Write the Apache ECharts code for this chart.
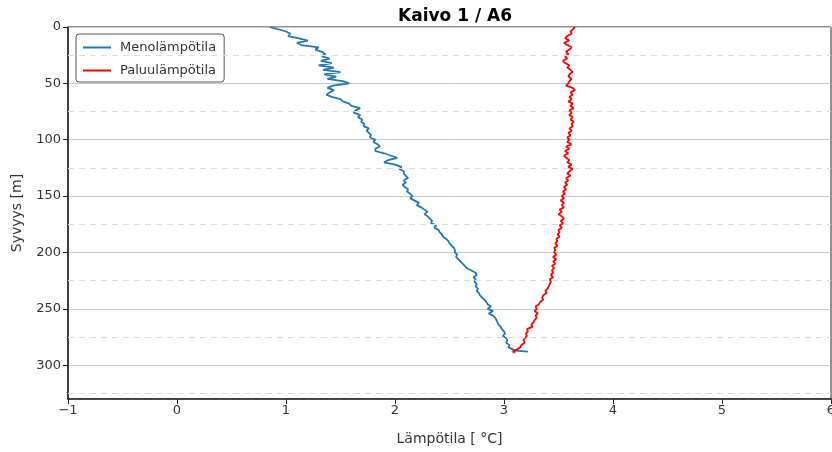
<!DOCTYPE html>
<html>
<head>
<meta charset="utf-8">
<script src="https://cdn.jsdelivr.net/npm/echarts@6/dist/echarts.min.js"></script>
<style>html,body{margin:0;padding:0;background:#fff}#c{width:832px;height:452px}</style>
</head>
<body>
<div id="c"></div>
<script>
const titleText = 'Kaivo 1 / A6';
const xName = 'Lämpötila [ °C]';
const yName = 'Syvyys [m]';
const seriesNames = ['Menolämpötila', 'Paluulämpötila'];
const xTicks = [-1, 0, 1, 2, 3, 4, 5, 6];
const yTicks = [0, 50, 100, 150, 200, 250, 300];
const yMinorGrid = [25, 75, 125, 175, 225, 275, 325];

const blueDepth = [0,2,4,6,8,10,12,14,16,18,20,22,24,26,28,30,32,34,36,38,40,42,44,46,48,50,52,54,56,58,60,62,64,66,68,70,72,74,76,78,80,82,84,86,88,90,92,94,96,98,100,102,104,106,108,110,112,114,116,118,120,122,124,126,128,130,132,134,136,138,140,142,144,146,148,150,152,154,156,158,160,162,164,166,168,170,172,174,176,178,180,182,184,186,188,190,192,194,196,198,200,202,204,206,208,210,212,214,216,218,220,222,224,226,228,230,232,234,236,238,240,242,244,246,248,250,252,254,256,258,260,262,264,266,268,270,272,274,276,278,280,282,284,286,287,288];
const blueTemp = [0.85,0.93,1.00,1.04,1.02,1.12,1.20,1.10,1.14,1.30,1.27,1.33,1.36,1.33,1.40,1.32,1.42,1.30,1.44,1.34,1.50,1.35,1.46,1.38,1.52,1.58,1.43,1.38,1.44,1.40,1.37,1.42,1.50,1.52,1.58,1.60,1.68,1.64,1.62,1.68,1.66,1.70,1.69,1.72,1.71,1.76,1.74,1.76,1.78,1.77,1.82,1.80,1.84,1.86,1.82,1.82,1.90,1.96,2.02,1.94,1.90,2.00,2.06,2.04,2.08,2.08,2.10,2.12,2.08,2.10,2.07,2.09,2.12,2.11,2.14,2.16,2.14,2.18,2.22,2.20,2.24,2.27,2.30,2.27,2.30,2.32,2.34,2.33,2.38,2.36,2.40,2.41,2.43,2.44,2.47,2.49,2.50,2.52,2.54,2.55,2.55,2.57,2.56,2.58,2.60,2.62,2.64,2.66,2.70,2.74,2.75,2.72,2.74,2.73,2.75,2.74,2.76,2.75,2.77,2.78,2.80,2.82,2.84,2.85,2.88,2.85,2.90,2.86,2.90,2.92,2.93,2.94,2.95,2.97,2.98,3.00,3.01,2.99,3.02,3.03,3.02,3.05,3.04,3.08,3.10,3.22];

const redDepth = [0,2,4,6,8,10,12,14,16,18,20,22,24,26,28,30,32,34,36,38,40,42,44,46,48,50,52,54,56,58,60,62,64,66,68,70,72,74,76,78,80,82,84,86,88,90,92,94,96,98,100,102,104,106,108,110,112,114,116,118,120,122,124,126,128,130,132,134,136,138,140,142,144,146,148,150,152,154,156,158,160,162,164,166,168,170,172,174,176,178,180,182,184,186,188,190,192,194,196,198,200,202,204,206,208,210,212,214,216,218,220,222,224,226,228,230,232,234,236,238,240,242,244,246,248,250,252,254,256,258,260,262,264,266,268,270,272,274,276,278,280,282,284,286,288,289];
const redTemp = [3.65,3.63,3.61,3.62,3.58,3.56,3.60,3.55,3.58,3.62,3.60,3.57,3.59,3.56,3.58,3.54,3.56,3.60,3.58,3.61,3.63,3.60,3.59,3.62,3.60,3.59,3.57,3.63,3.65,3.61,3.63,3.60,3.62,3.59,3.63,3.61,3.64,3.60,3.62,3.60,3.63,3.61,3.64,3.62,3.63,3.60,3.62,3.59,3.61,3.58,3.60,3.58,3.62,3.57,3.60,3.56,3.59,3.55,3.57,3.60,3.58,3.62,3.59,3.63,3.60,3.58,3.61,3.57,3.59,3.56,3.58,3.55,3.57,3.54,3.56,3.53,3.55,3.52,3.55,3.53,3.55,3.51,3.53,3.50,3.53,3.55,3.52,3.54,3.51,3.53,3.50,3.51,3.49,3.51,3.48,3.49,3.47,3.49,3.46,3.47,3.46,3.48,3.45,3.48,3.45,3.47,3.44,3.46,3.44,3.45,3.43,3.45,3.42,3.43,3.42,3.41,3.40,3.38,3.39,3.36,3.35,3.36,3.33,3.32,3.29,3.30,3.28,3.31,3.29,3.30,3.28,3.27,3.25,3.26,3.21,3.22,3.20,3.21,3.19,3.18,3.19,3.16,3.15,3.12,3.08,3.10];

const blueData = blueDepth.map((d, i) => [blueTemp[i], d]);
const redData = redDepth.map((d, i) => [redTemp[i], d]);

const FONT = 'DejaVu Sans';
const chart = echarts.init(document.getElementById('c'), null, {renderer: 'canvas'});
chart.setOption({
  animation: false,
  backgroundColor: '#fff',
  title: {
    text: titleText, left: 450, top: 3, textAlign: 'center',
    textStyle: {fontFamily: FONT, fontSize: 17, fontWeight: 'bold', color: '#000'}
  },
  legend: {
    orient: 'vertical', left: 76, top: 34,
    data: seriesNames,
    icon: 'rect',
    itemWidth: 28, itemHeight: 2, itemGap: 10,
    padding: [7, 8, 5, 7],
    borderColor: '#555', borderWidth: 1, borderRadius: 3,
    textStyle: {fontFamily: FONT, fontSize: 13, color: '#333', padding: [0, 0, 0, 4]}
  },
  grid: {left: 68, right: 1, top: 27, bottom: 53, show: true, borderColor: '#222', borderWidth: 1,
    outerBoundsMode: 'none', containLabel: false},
  xAxis: {
    type: 'value', min: -1, max: 6, interval: 1,
    name: xName, nameLocation: 'middle', nameGap: 33,
    nameTextStyle: {fontFamily: FONT, fontSize: 14, color: '#333'},
    axisLine: {onZero: false, lineStyle: {color: '#222', width: 1.5}},
    axisTick: {show: true, length: 5, lineStyle: {color: '#222'}},
    axisLabel: {fontFamily: FONT, fontSize: 13, color: '#333', margin: 5,
      formatter: v => (v < 0 ? '\u2212' + Math.abs(v) : String(v))},
    splitLine: {show: false}
  },
  yAxis: {
    type: 'value', inverse: true, min: 0, max: 330, interval: 50,
    name: yName, nameLocation: 'middle', nameGap: 44,
    nameTextStyle: {fontFamily: FONT, fontSize: 14, color: '#333'},
    axisLine: {onZero: false, lineStyle: {color: '#222', width: 1.5}},
    axisTick: {show: true, length: 5, lineStyle: {color: '#222'}},
    axisLabel: {fontFamily: FONT, fontSize: 13, color: '#333', margin: 7, showMaxLabel: false},
    splitLine: {show: true, lineStyle: {color: '#c8c8c8', width: 1}}
  },
  series: [
    {
      name: seriesNames[0], type: 'line', data: blueData, symbol: 'none',
      lineStyle: {color: '#1f77b4', width: 1.8}, itemStyle: {color: '#1f77b4'},
      z: 3,
      markLine: {
        silent: true, symbol: 'none', label: {show: false},
        lineStyle: {type: [6, 5], color: '#dcdcdc', width: 1},
        data: yMinorGrid.map(v => ({yAxis: v}))
      }
    },
    {
      name: seriesNames[1], type: 'line', data: redData, symbol: 'none',
      lineStyle: {color: '#ff0000', width: 1.8}, itemStyle: {color: '#ff0000'},
      z: 4
    }
  ]
});
</script>
</body>
</html>
